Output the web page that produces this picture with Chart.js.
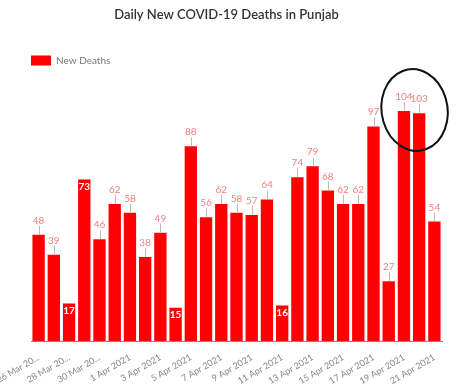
<!DOCTYPE html>
<html>
<head>
<meta charset="utf-8">
<script src="https://cdn.jsdelivr.net/npm/chart.js@4.4.0/dist/chart.umd.min.js"></script>
<style>
  html, body { margin: 0; padding: 0; background: #fff; }
  #wrap { width: 462px; height: 387px; }
</style>
</head>
<body>
<div id="wrap"><canvas id="deaths_chart"></canvas></div>
<script>
var dates = ["26 Mar 2021", "27 Mar 2021", "28 Mar 2021", "29 Mar 2021", "30 Mar 2021", "31 Mar 2021",
    "1 Apr 2021", "2 Apr 2021", "3 Apr 2021", "4 Apr 2021", "5 Apr 2021", "6 Apr 2021", "7 Apr 2021",
    "8 Apr 2021", "9 Apr 2021", "10 Apr 2021", "11 Apr 2021", "12 Apr 2021", "13 Apr 2021", "14 Apr 2021",
    "15 Apr 2021", "16 Apr 2021", "17 Apr 2021", "18 Apr 2021", "19 Apr 2021", "20 Apr 2021", "21 Apr 2021"];
var newDeaths = [48, 39, 17, 73, 46, 62, 58, 38, 49, 15, 88, 56, 62, 58, 57, 64, 16, 74, 79, 68, 62, 62, 97, 27, 104, 103, 54];
// labels shown under every second bar
var tickLabels = ["26 Mar 20...", "28 Mar 20...", "30 Mar 20...", "1 Apr 2021", "3 Apr 2021", "5 Apr 2021",
    "7 Apr 2021", "9 Apr 2021", "11 Apr 2021", "13 Apr 2021", "15 Apr 2021", "17 Apr 2021", "19 Apr 2021", "21 Apr 2021"];
// bars whose value is written inside the bar
var insideLabels = [2, 3, 9, 16];
var circled = [24, 25];

var FONT = "Lato, 'Noto Sans', sans-serif";

var valueLabels = {
    id: 'valueLabels',
    afterDatasetsDraw: function (chart) {
        var ctx = chart.ctx;
        var meta = chart.getDatasetMeta(0);
        ctx.save();
        ctx.textAlign = 'center';
        meta.data.forEach(function (bar, i) {
            var v = newDeaths[i];
            if (insideLabels.indexOf(i) >= 0) {
                ctx.font = "bold 10px " + FONT;
                ctx.fillStyle = '#fff';
                ctx.textBaseline = 'middle';
                ctx.fillText(v, bar.x, bar.y + 7);
            } else {
                ctx.strokeStyle = '#bbb';
                ctx.lineWidth = 1;
                ctx.beginPath();
                ctx.moveTo(Math.round(bar.x) + 0.5, bar.y);
                ctx.lineTo(Math.round(bar.x) + 0.5, bar.y - 9);
                ctx.stroke();
                ctx.font = "10px " + FONT;
                ctx.fillStyle = '#f08080';
                ctx.textBaseline = 'alphabetic';
                ctx.fillText(v, bar.x, bar.y - 11);
            }
        });
        ctx.restore();
    }
};

// hand drawn ring around the two highest bars
var ring = {
    id: 'ring',
    afterDraw: function (chart) {
        var meta = chart.getDatasetMeta(0);
        var a = meta.data[circled[0]], b = meta.data[circled[1]];
        var cx = (a.x + b.x) / 2 + 3;
        var cy = chart.scales.y.getPixelForValue(newDeaths[circled[0]]) - 1;
        var ctx = chart.ctx;
        ctx.save();
        ctx.strokeStyle = '#111';
        ctx.lineWidth = 2;
        ctx.beginPath();
        ctx.ellipse(cx, cy, 33, 41, -0.15, -1.75, 4.6);
        ctx.stroke();
        ctx.restore();
    }
};

new Chart(document.getElementById("deaths_chart").getContext("2d"), {
    type: 'bar',
    data: {
        labels: dates,
        datasets: [{
            label: "New Deaths",
            data: newDeaths,
            backgroundColor: '#ff0000',
            borderWidth: 0,
            categoryPercentage: 0.9,
            barPercentage: 0.9
        }]
    },
    options: {
        responsive: true,
        maintainAspectRatio: false,
        animation: false,
        layout: { padding: { left: 11, right: 20, top: 0, bottom: 0 } },
        plugins: {
            title: {
                display: true,
                text: 'Daily New COVID-19 Deaths in Punjab',
                color: '#333',
                font: { family: FONT, size: 13, weight: '600' },
                padding: { top: 7, bottom: 13 }
            },
            legend: {
                align: 'start',
                labels: {
                    boxWidth: 20,
                    boxHeight: 10,
                    padding: 20,
                    color: '#777',
                    font: { family: FONT, size: 10 }
                }
            },
            tooltip: { enabled: false }
        },
        scales: {
            x: {
                grid: { display: false },
                border: { display: true, color: '#888' },
                ticks: {
                    autoSkip: false,
                    minRotation: 30,
                    maxRotation: 30,
                    color: '#888',
                    font: { family: FONT, size: 9 },
                    callback: function (val, i) { return i % 2 === 0 ? tickLabels[i / 2] : ''; }
                },
                afterFit: function (s) { s.paddingLeft = 0; s.paddingRight = 0; s.height = 46; }
            },
            y: {
                min: 0,
                max: 120,
                grid: { display: false },
                border: { display: false },
                ticks: { display: false },
                afterFit: function (s) { s.width = 20; }
            }
        }
    },
    plugins: [valueLabels, ring]
});
</script>
</body>
</html>
